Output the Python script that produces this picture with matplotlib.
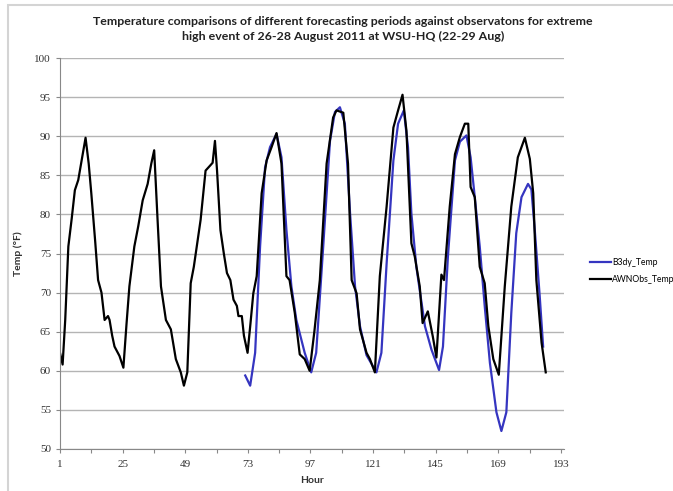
import matplotlib
matplotlib.use('Agg')
import matplotlib.pyplot as plt
from matplotlib.patches import Rectangle

obs_hour = [1, 2, 3, 4.2, 5.5, 6.7, 8, 9.5, 10.8, 12, 13, 14.5, 15.6, 16.9, 18.1, 19.4,
            20, 21, 21.9, 23.8, 25.3, 26.5, 27.6, 29.5, 31, 32.7, 34.6, 36, 37.1, 38.4,
            39.7, 41.6, 43.5, 45.4, 47.3, 48.5, 49.8, 51.1, 52.3, 54.9, 56.8, 58.7, 59.5,
            60.4, 61.2, 62.5, 63.8, 65, 66.3, 67.5, 68.8, 69.4, 70.7, 71.5, 72.9, 74,
            75.1, 76.4, 78.3, 80.2, 82.1, 84, 85.9, 87.8, 89, 91, 92.9, 94.8, 96.7, 98.5,
            100.6, 103.2, 105.7, 107, 109.6, 111.4, 112.8, 114.7, 116, 118.5, 119.8,
            121.7, 123.6, 126.2, 128.8, 130.6, 132.3, 133.8, 135.7, 137, 138.9, 140,
            142, 143.9, 145.3, 147.2, 148.2, 150.4, 152.4, 154.3, 156.2, 157.5, 158.4,
            160, 161.9, 163.8, 165.2, 167.1, 169.2, 171.5, 174, 176.5, 179.2, 181.1,
            182.4, 183.6, 185.6, 187.2]
obs_temp = [62.3, 60.8, 66.5, 75.9, 79.5, 83.1, 84.4, 87.3, 89.8, 86.5, 82.7, 76.5, 71.6,
            70, 66.5, 67, 66.5, 64.5, 63.1, 61.9, 60.4, 66, 70.8, 75.9, 78.5, 81.8, 83.9,
            86.5, 88.2, 79.3, 70.8, 66.5, 65.3, 61.5, 59.8, 58.1, 59.8, 71.2, 73.3, 79.3,
            85.6, 86.3, 86.6, 89.4, 85.6, 78, 75, 72.5, 71.6, 69.1, 68.3, 67, 67, 64.5,
            62.3, 66, 69.9, 72.1, 82.7, 86.9, 88.6, 90.4, 86.5, 72.1, 71.6, 67.4, 62.1,
            61.5, 60, 65, 71.6, 86.5, 92.4, 93.3, 93, 86.5, 71.6, 69.9, 65.3, 62.3, 61.5,
            59.8, 72.1, 81, 91.1, 93.3, 95.3, 90.7, 76.3, 74.6, 70.8, 66.1, 67.6, 64.4,
            61.7, 72.3, 71.6, 81, 87.7, 89.9, 91.6, 91.6, 83.5, 82.2, 73.3, 71.2, 65.7,
            61.5, 59.5, 70.8, 81, 87.3, 89.8, 87.1, 82.7, 71.6, 63.6, 59.8]

# 3-day forecast temps (B3dy_Temp)
fc_hour = [72, 73.9, 75.8, 77.7, 79.6, 81.5, 84, 85.9, 87.8, 89.7, 91.6, 94.8, 97.3, 99.2,
           101.9, 104.5, 106.4, 108.3, 110.2, 112.2, 114.1, 116, 118.5, 122.3, 124.2,
           126.2, 128.8, 130.6, 132.8, 134.4, 135.7, 137.6, 140.9, 143.4, 146.3, 147.8,
           149.7, 152.4, 154.3, 156.8, 158.4, 160, 161.9, 163.8, 165.8, 168.3, 170.2,
           172.1, 174, 175.9, 177.9, 180.4, 181.7, 183, 184.9, 186.2]
fc_temp = [59.4, 58.1, 62.3, 75.9, 86, 88.6, 90.3, 87.3, 78, 70.8, 66.5, 62.3, 59.8, 62.3,
           75.9, 89.4, 93.1, 93.7, 91.6, 80.1, 70.8, 65.7, 62, 59.8, 62.3, 73.7, 86.9,
           91.6, 93.3, 88.6, 80.1, 73.3, 65.7, 62.7, 60.1, 63.1, 74.6, 86.9, 89.3, 90.1,
           87.3, 82.2, 75.9, 68.3, 61, 54.7, 52.3, 54.7, 67.4, 77.6, 82.2, 83.9, 83.2, 78,
           69.5, 63.1]

xticks = [1, 25, 49, 73, 97, 121, 145, 169, 193]
yticks = [50, 55, 60, 65, 70, 75, 80, 85, 90, 95, 100]

title = ('Temperature comparisons of different forecasting periods against observatons for extreme\n'
         'high event of 26-28 August 2011 at WSU-HQ (22-29 Aug)')

W, H = 673, 491
fig = plt.figure(figsize=(W / 100, H / 100), dpi=100)
ax = fig.add_axes([60 / W, 1 - 449 / H, 504 / W, (449 - 58) / H])

ax.plot(fc_hour, fc_temp, color='#3535c0', lw=1.6, label='B3dy_Temp', solid_joinstyle='round')
ax.plot(obs_hour, obs_temp, color='black', lw=1.6, label='AWNObs_Temp', solid_joinstyle='round')

ax.set_xlim(1, 194.2)
ax.set_ylim(50, 100)
ax.set_xticks(xticks)
ax.set_xticks(range(13, 193, 24), minor=True)
ax.set_yticks(yticks)
ax.grid(axis='y', color='#b4b4b4', lw=1)
ax.set_axisbelow(True)
for s in ['top', 'right']:
    ax.spines[s].set_visible(False)
for s in ['left', 'bottom']:
    ax.spines[s].set_color('#888888')
ax.tick_params(which='both', direction='out', color='#888888', length=3, width=0.8)
ax.tick_params(axis='x', pad=5)
for lab in ax.get_xticklabels() + ax.get_yticklabels():
    lab.set_family('Liberation Serif')
    lab.set_fontsize(8)
    lab.set_color('#333333')

ax.set_xlabel('Hour', family='Lato', fontweight='bold', fontsize=7.5, color='#333333', labelpad=5)
ax.set_ylabel('Temp (°F)', family='Lato', fontweight='bold', fontsize=7.5, color='#333333', labelpad=8)

fig.text(343 / W, 1 - 29 / H, title, ha='center', va='center', family='Lato',
         fontweight='bold', fontsize=8.9, linespacing=1.4, color='#222222')

ax.legend(loc='center left', bbox_to_anchor=(590 / W, 1 - 271 / H), bbox_transform=fig.transFigure,
          frameon=False, prop={'family': 'Lato', 'size': 6.2}, handlelength=2.4, handletextpad=0.15,
          labelspacing=0.95, borderpad=0, borderaxespad=0)

fig.patches.append(Rectangle((8 / W, -0.1), 1.2, 0.99 + 0.1, fill=False, edgecolor='#d4d4d4',
                             lw=1.5, transform=fig.transFigure, clip_on=False))

fig.savefig('out.png', dpi=100)
